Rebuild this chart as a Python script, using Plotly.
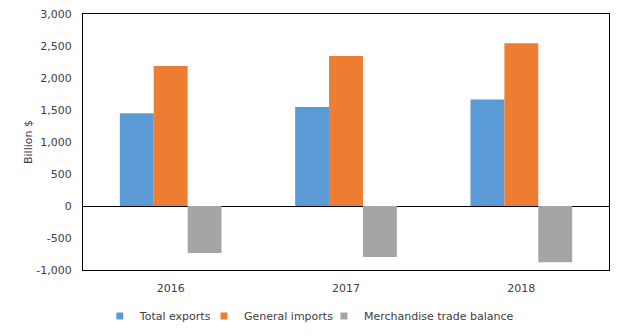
import plotly.graph_objects as go

years = ["2016", "2017", "2018"]
total_exports = [1451, 1547, 1665]
general_imports = [2187, 2342, 2542]
trade_balance = [-736, -796, -877]

series_names = ["Total exports", "General imports", "Merchandise trade balance"]
colors = ["#5B9BD5", "#ED7D31", "#A5A5A5"]

y_tick_vals = [-1000, -500, 0, 500, 1000, 1500, 2000, 2500, 3000]
y_tick_text = ["-1,000", "-500", "0", "500", "1,000", "1,500", "2,000", "2,500", "3,000"]

legend_ids = ["legend", "legend2", "legend3"]
legend_x = [0.032, 0.230, 0.458]

fig = go.Figure()
for name, vals, col in zip(series_names, [total_exports, general_imports, trade_balance], colors):
    fig.add_trace(go.Bar(x=years, y=vals, name=name, showlegend=False,
                         marker=dict(color=col, line=dict(width=0))))
# legend entries with small square markers
for name, col, lid in zip(series_names, colors, legend_ids):
    fig.add_trace(go.Scatter(x=[None], y=[None], mode="markers", name=name, legend=lid,
                             marker=dict(symbol="square", size=7, color=col)))

font = "DejaVu Sans, Verdana, sans-serif"
txt = "#404040"

def leg(x):
    return dict(orientation="h", x=x, xanchor="left", y=-0.18, yanchor="middle",
                font=dict(size=11, color=txt), itemwidth=30,
                bgcolor="rgba(0,0,0,0)")

fig.update_layout(
    width=624, height=336,
    margin=dict(l=83, r=15, t=14, b=66, autoexpand=False),
    paper_bgcolor="white", plot_bgcolor="white",
    barmode="group", bargap=0.42, bargroupgap=0,
    font=dict(family=font, size=11, color=txt),
    showlegend=True,
    legend=leg(legend_x[0]), legend2=leg(legend_x[1]), legend3=leg(legend_x[2]),
    xaxis=dict(showline=True, linecolor="black", linewidth=1, mirror=True,
               ticks="", tickfont=dict(size=11, color=txt), showgrid=False,
               ticklabelstandoff=8, automargin=False),
    yaxis=dict(range=[-1000, 3000], tickmode="array", tickvals=y_tick_vals, ticktext=y_tick_text,
               showgrid=False, automargin=False,
               showline=True, linecolor="black", linewidth=1, mirror=True,
               zeroline=True, zerolinecolor="black", zerolinewidth=1,
               ticks="", tickfont=dict(size=11, color=txt), ticklabelstandoff=8,
               title=dict(text="Billion $", font=dict(size=11, color=txt), standoff=1)),
)

fig.write_html("out.html")
